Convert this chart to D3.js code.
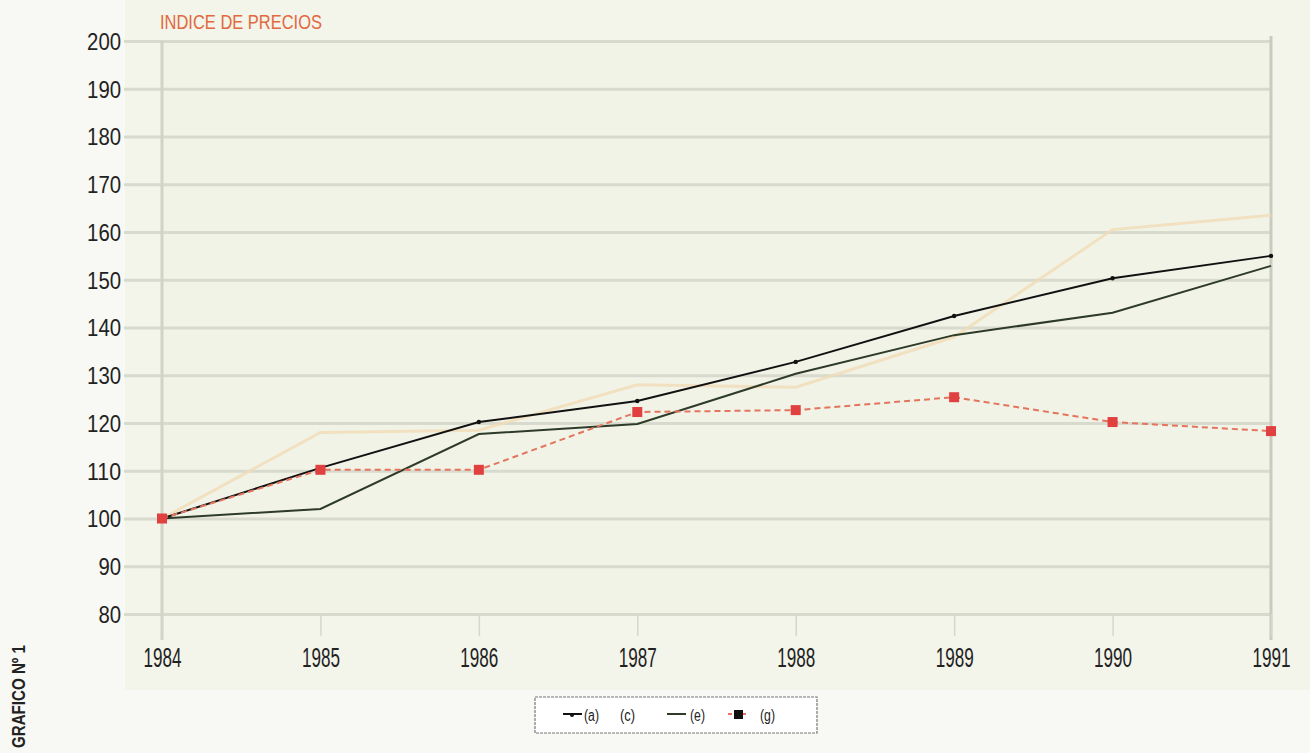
<!DOCTYPE html>
<html><head><meta charset="utf-8">
<script src="https://cdn.jsdelivr.net/npm/d3@7"></script>
<style>
html,body{margin:0;padding:0;background:#f8f8f4;}
svg{display:block;}
</style></head>
<body>
<svg id="chart" width="1310" height="753"></svg>
<script>
const years = [1984, 1985, 1986, 1987, 1988, 1989, 1990, 1991];
const seriesA = [100, 110.6, 120.2, 124.6, 132.8, 142.4, 150.3, 155.0];
const seriesC = [100, 118.0, 118.5, 128.0, 127.5, 138.0, 160.5, 163.5];
const seriesE = [100, 102.0, 117.7, 119.8, 130.3, 138.4, 143.1, 152.9];
const seriesG = [100, 110.2, 110.2, 122.3, 122.7, 125.4, 120.2, 118.3];
const yTicks = [80, 90, 100, 110, 120, 130, 140, 150, 160, 170, 180, 190, 200];
const legendLabels = ["(a)", "(c)", "(e)", "(g)"];
const titleText = "INDICE DE PRECIOS";
const sideText = "GRAFICO Nº 1";

const svg = d3.select("#chart");
const x = d3.scalePoint().domain(years).range([162, 1271]);
const y = d3.scaleLinear().domain([80, 200]).range([614, 41]);
const font = "'Liberation Sans',Arial,sans-serif";

// background panel
svg.append("rect").attr("x", 125).attr("y", 0).attr("width", 1185).attr("height", 690).attr("fill", "#f3f4ea");
svg.append("rect").attr("x", 162).attr("y", 41).attr("width", 1109).attr("height", 573).attr("fill", "#f2f3e7");

// gridlines + y labels
const yAxis = d3.axisLeft(y).tickValues(yTicks).tickSize(1271 - 124).tickFormat(d3.format("d"));
const gy = svg.append("g").attr("transform", "translate(1271,0)").call(yAxis);
gy.select(".domain").remove();
gy.selectAll(".tick line").attr("stroke", "#d9dace").attr("stroke-width", 3);
gy.selectAll(".tick text").attr("x", -(1271 - 121)).attr("font-family", font)
  .attr("font-size", 23).attr("fill", "#222").attr("text-anchor", "end").attr("dy", "0.36em")
  .attr("textLength", d => String(d).length * 11.3).attr("lengthAdjust", "spacingAndGlyphs");

// vertical frame lines
svg.append("line").attr("x1", x(1984)).attr("x2", x(1984)).attr("y1", 41).attr("y2", 640)
  .attr("stroke", "#d2d3c7").attr("stroke-width", 3);
svg.append("line").attr("x1", x(1991)).attr("x2", x(1991)).attr("y1", 36).attr("y2", 640)
  .attr("stroke", "#cacbbf").attr("stroke-width", 3);

// x axis
const xAxis = d3.axisBottom(x).tickSize(22).tickFormat(d3.format("d"));
const gx = svg.append("g").attr("transform", "translate(0,614)").call(xAxis);
gx.select(".domain").remove();
gx.selectAll(".tick line").attr("stroke", "#d6d7cb").attr("stroke-width", 1.5);
gx.selectAll(".tick text").attr("y", 0).attr("dy", 0).attr("font-family", font)
  .attr("font-size", 27).attr("fill", "#222").attr("text-anchor", "middle")
  .attr("transform", "translate(0,53) scale(0.633,1)");

// lines
const line = d3.line().x((d, i) => x(years[i])).y(d => y(d));
svg.append("path").datum(seriesC).attr("d", line).attr("fill", "none")
  .attr("stroke", "#f0dcb8").attr("stroke-width", 3).attr("opacity", 0.8);
svg.append("path").datum(seriesE).attr("d", line).attr("fill", "none")
  .attr("stroke", "#2e3b28").attr("stroke-width", 2);
svg.append("path").datum(seriesA).attr("d", line).attr("fill", "none")
  .attr("stroke", "#111").attr("stroke-width", 2);
svg.append("g").selectAll("circle").data(seriesA).join("circle")
  .attr("cx", (d, i) => x(years[i])).attr("cy", d => y(d)).attr("r", 2.2).attr("fill", "#111");
svg.append("path").datum(seriesG).attr("d", line).attr("fill", "none")
  .attr("stroke", "#e3745e").attr("stroke-width", 2).attr("stroke-dasharray", "6,4");
svg.append("g").selectAll("rect").data(seriesG).join("rect")
  .attr("x", (d, i) => x(years[i]) - 5).attr("y", d => y(d) - 5)
  .attr("width", 10).attr("height", 10).attr("fill", "#e04040");

// title
svg.append("text").attr("x", 160).attr("y", 29).attr("font-family", font).attr("font-size", 21)
  .attr("fill", "#e2683f").attr("textLength", 162).attr("lengthAdjust", "spacingAndGlyphs")
  .text(titleText);

// side label
svg.append("text").attr("transform", "translate(25,748) rotate(-90)").attr("font-family", font)
  .attr("font-weight", "bold").attr("font-size", 19).attr("fill", "#222")
  .attr("textLength", 103).attr("lengthAdjust", "spacingAndGlyphs").text(sideText);

// legend
const lg = svg.append("g");
lg.append("rect").attr("x", 535).attr("y", 697).attr("width", 282).attr("height", 36)
  .attr("fill", "#ffffff").attr("stroke", "#777").attr("stroke-width", 1.2).attr("stroke-dasharray", "3,1");
const items = [
  {lx: 563, tx: 584, color: "#111", dash: null, marker: "dot"},
  {lx: null, tx: 620, color: "#f0dcb8", dash: null, marker: null},
  {lx: 667, tx: 690, color: "#2e3b28", dash: null, marker: null},
  {lx: 728, tx: 760, color: "#e3745e", dash: "4,3", marker: "sq"}
];
items.forEach((it, i) => {
  if (it.lx !== null) {
    lg.append("line").attr("x1", it.lx).attr("x2", it.lx + 19).attr("y1", 714).attr("y2", 714)
      .attr("stroke", it.color).attr("stroke-width", 2).attr("stroke-dasharray", it.dash);
  }
  if (it.marker === "dot") lg.append("circle").attr("cx", it.lx + 9).attr("cy", 715).attr("r", 2).attr("fill", "#111");
  if (it.marker === "sq") lg.append("rect").attr("x", it.lx + 6).attr("y", 710).attr("width", 9).attr("height", 9).attr("fill", "#111");
  lg.append("text").attr("x", it.tx).attr("y", 721).attr("font-family", font).attr("font-size", 16)
    .attr("fill", "#222").attr("textLength", 15).attr("lengthAdjust", "spacingAndGlyphs").text(legendLabels[i]);
});
</script>
</body></html>
